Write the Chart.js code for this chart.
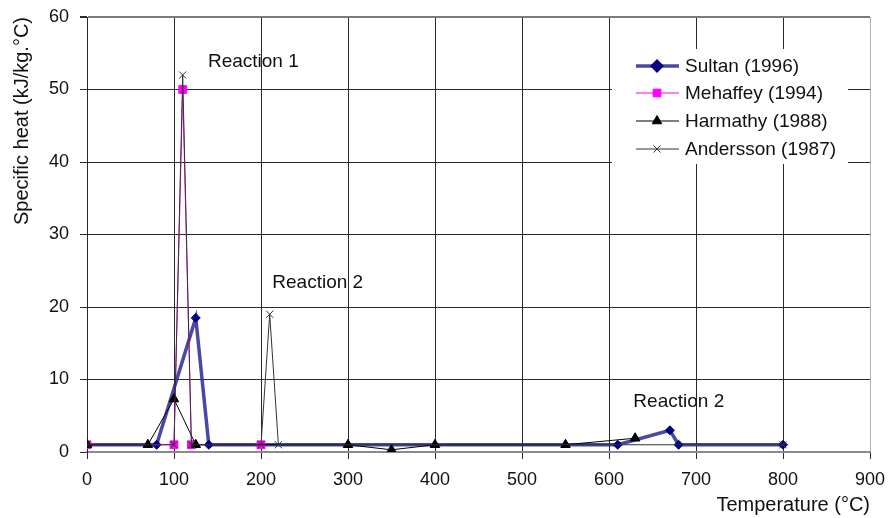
<!DOCTYPE html>
<html>
<head>
<meta charset="utf-8">
<script src="https://cdn.jsdelivr.net/npm/chart.js@4/dist/chart.umd.min.js"></script>
<style>
html,body{margin:0;padding:0;background:#fff;overflow:hidden}
canvas{display:block}
</style>
</head>
<body>
<canvas id="c" width="889" height="518"></canvas>
<script>
// ---- data ----
const sultanT    = [0, 80, 125, 140, 610, 670, 680, 800];
const sultanCp   = [1, 1, 18.5, 1, 1, 3, 1, 1];
const mehaffeyT  = [0, 100, 110, 120, 200];
const mehaffeyCp = [1, 1, 50, 1, 1];
const harmathyT  = [0, 70, 100, 125, 300, 350, 400, 550, 630];
const harmathyCp = [1, 1, 7.3, 1, 1, 0.3, 1, 1, 1.9];
const anderssonT  = [0, 100, 110, 120, 200, 210, 220, 800];
const anderssonCp = [1, 1, 52, 1, 1, 19, 1, 1];

const seriesNames = ['Sultan (1996)', 'Mehaffey (1994)', 'Harmathy (1988)', 'Andersson (1987)'];
const xTicks = [0, 100, 200, 300, 400, 500, 600, 700, 800, 900];
const yTicks = [0, 10, 20, 30, 40, 50, 60];
const xTitle = 'Temperature (°C)';
const yTitle = 'Specific heat (kJ/kg.°C)';
const noteTexts = ['Reaction 1', 'Reaction 2', 'Reaction 2'];
const noteT  = [139, 213, 628];
const noteCp = [53.8, 23.4, 6.9];

// ---- chart ----
const FONT = "'Liberation Sans', Arial, sans-serif";
const TXT = '#111';
Chart.defaults.font.family = FONT;
Chart.defaults.color = TXT;

const pts = (xs, ys) => xs.map((x, i) => ({ x: x, y: ys[i] }));

const annotationPlugin = {
  id: 'reactionNotes',
  afterDatasetsDraw(chart) {
    const c = chart.ctx, sx = chart.scales.x, sy = chart.scales.y;
    c.save();
    c.font = '19px ' + FONT;
    c.fillStyle = TXT;
    c.textAlign = 'left';
    c.textBaseline = 'middle';
    noteTexts.forEach((t, i) => {
      c.fillText(t, sx.getPixelForValue(noteT[i]), sy.getPixelForValue(noteCp[i]));
    });
    c.restore();
  }
};

const boxLegendPlugin = {
  id: 'boxLegend',
  afterDraw(chart) {
    const c = chart.ctx, a = chart.chartArea;
    const bx = a.right - 258, by = a.top + 32, bw = 236, bh = 115;
    c.save();
    c.fillStyle = '#fff';
    c.fillRect(bx, by, bw, bh);
    const rowY = [17, 44, 72, 100];
    chart.data.datasets.forEach((ds, i) => {
      const y = by + rowY[i];
      c.strokeStyle = ds.borderColor;
      c.lineWidth = ds.borderWidth;
      c.beginPath();
      c.moveTo(bx + 24, y);
      c.lineTo(bx + 67, y);
      c.stroke();
      c.fillStyle = ds.pointBackgroundColor;
      c.strokeStyle = ds.pointBorderColor;
      Chart.helpers.drawPoint(c, {
        pointStyle: ds.pointStyle, rotation: 0,
        radius: ds.pointRadius, borderWidth: ds.pointBorderWidth
      }, bx + 45, y);
      c.fillStyle = TXT;
      c.font = '19px ' + FONT;
      c.textAlign = 'left';
      c.textBaseline = 'middle';
      c.fillText(seriesNames[i], bx + 73, y + 1);
    });
    c.restore();
  }
};

new Chart(document.getElementById('c'), {
  type: 'line',
  data: {
    datasets: [
      {
        label: seriesNames[0], data: pts(sultanT, sultanCp),
        borderColor: 'rgba(40,40,150,0.85)', borderWidth: 3.5,
        pointStyle: 'rectRot', pointRadius: 4.5, pointBorderWidth: 1,
        pointBackgroundColor: '#000080', pointBorderColor: '#000080',
        order: 4
      },
      {
        label: seriesNames[1], data: pts(mehaffeyT, mehaffeyCp),
        borderColor: '#ff00ff', borderWidth: 1,
        pointStyle: 'rect', pointRadius: 5.5, pointBorderWidth: 1,
        pointBackgroundColor: '#ff00ff', pointBorderColor: '#ff00ff',
        order: 3
      },
      {
        label: seriesNames[2], data: pts(harmathyT, harmathyCp),
        borderColor: '#000000', borderWidth: 1,
        pointStyle: 'triangle', pointRadius: 5.5, pointBorderWidth: 1,
        pointBackgroundColor: '#000000', pointBorderColor: '#000000',
        order: 2
      },
      {
        label: seriesNames[3], data: pts(anderssonT, anderssonCp),
        borderColor: '#333333', borderWidth: 1,
        pointStyle: 'crossRot', pointRadius: 5, pointBorderWidth: 1,
        pointBackgroundColor: '#333333', pointBorderColor: '#333333',
        order: 1
      }
    ]
  },
  options: {
    responsive: false,
    animation: false,
    events: [],
    elements: { line: { tension: 0, fill: false } },
    layout: { padding: { top: 17, right: 19, left: 0, bottom: 0 } },
    plugins: { legend: { display: false }, tooltip: { enabled: false } },
    scales: {
      x: {
        type: 'linear', min: 0, max: 900,
        afterBuildTicks: s => { s.ticks = xTicks.map(v => ({ value: v })); },
        afterFit: s => { s.height = 66; s.paddingLeft = 0; s.paddingRight = 0; },
        ticks: { font: { size: 18 }, color: TXT, padding: 10, maxRotation: 0, autoSkip: false },
        grid: {
          color: ctx => (ctx.tick && ctx.tick.value === 900) ? '#b0b0b0' : '#2a2a2a',
          tickColor: '#2a2a2a', tickLength: 7, lineWidth: 1
        },
        border: { color: '#8a8a8a', width: 2 },
        title: { display: true, text: xTitle, align: 'end', font: { size: 20 }, color: TXT, padding: { top: 0, bottom: 1 } }
      },
      y: {
        type: 'linear', min: 0, max: 60,
        afterBuildTicks: s => { s.ticks = yTicks.map(v => ({ value: v })); },
        afterFit: s => { s.width = 87; s.paddingTop = 0; s.paddingBottom = 0; },
        ticks: { font: { size: 18 }, color: TXT, padding: 11 },
        grid: {
          color: ctx => (ctx.tick && ctx.tick.value === 60) ? '#7a7a7a' : '#2a2a2a',
          lineWidth: ctx => (ctx.tick && ctx.tick.value === 60) ? 2 : 1,
          tickColor: '#2a2a2a', tickLength: 7
        },
        border: { color: '#2a2a2a', width: 1 },
        title: { display: true, text: yTitle, align: 'end', font: { size: 20 }, color: TXT, padding: { top: 10, bottom: 0 } }
      }
    }
  },
  plugins: [annotationPlugin, boxLegendPlugin]
});
</script>
</body>
</html>
